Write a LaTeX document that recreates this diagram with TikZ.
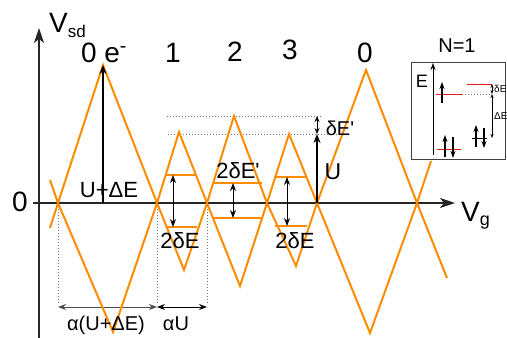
\documentclass[tikz,border=0pt]{standalone}
\usepackage{fontspec}
\setmainfont{Liberation Sans}
\usetikzlibrary{arrows.meta, positioning, calc}
\definecolor{diamondorange}{RGB}{255,140,0}
\definecolor{levelred}{RGB}{230,20,20}

\begin{document}
\begin{tikzpicture}[
    x=1pt, y=-1pt,
    >=Stealth,
    axisline/.style={line width=1.2pt, black!85, -{Stealth[length=15pt, width=10pt, inset=4pt]}},
    coulomb/.style={draw=diamondorange, line width=2pt},
    stateline/.style={draw=diamondorange, line width=2pt},
    gap/.style={line width=1pt, {Stealth[length=8pt, width=6pt]}-{Stealth[length=8pt, width=6pt]}},
    smallgap/.style={line width=0.8pt, {Stealth[length=4pt, width=3pt]}-{Stealth[length=4pt, width=3pt]}},
    charge/.style={line width=2.2pt, -{Stealth[length=9pt, width=7pt]}},
    guide/.style={black!55, line width=1pt, dash pattern=on 1pt off 2pt},
    big/.style={inner sep=0pt, anchor=base, font=\fontsize{28}{28}\selectfont},
    note/.style={inner sep=0pt, anchor=base, font=\fontsize{22}{22}\selectfont},
    tiny/.style={inner sep=0pt, anchor=base west, font=\fontsize{10}{10}\selectfont},
    redline/.style={draw=levelred, line width=1pt},
    spin/.style={line width=1.2pt, -{Stealth[length=7pt, width=5pt]}}
]
\useasboundingbox (0,0) rectangle (507,338);

% crossings on the gate axis
\coordinate (c0) at (58,203);
\coordinate (c1) at (157,203);
\coordinate (c2) at (207,203);
\coordinate (c3) at (267,203);
\coordinate (c4) at (317,203);
\coordinate (c5) at (417,203);
% diamond tips
\coordinate (t1) at (103,65);
\coordinate (t2) at (179,132);
\coordinate (t3) at (234,116);
\coordinate (t4) at (289,134);
\coordinate (t5) at (366,70);
\coordinate (b1) at (113,332);
\coordinate (b2) at (184,270);
\coordinate (b3) at (240,286);
\coordinate (b4) at (296,266);
\coordinate (b5) at (370,333);
% loose ends
\coordinate (la) at (50,228);
\coordinate (lb) at (50,180);
\coordinate (ra) at (447,278);
\coordinate (rb) at (431,161);

% axes
\coordinate (gstart) at (33,203);
\coordinate (gend) at (455,203);
\coordinate (sdstart) at (39,338);
\coordinate (sdend) at (39,28);
\draw[axisline] (gstart) -- (gend);
\draw[axisline] (sdstart) -- (sdend);

% guides
\coordinate (floor) at (0,305);
\coordinate (span) at (0,307);
\foreach \c in {c0,c1,c2} {
    \draw[guide] (\c) -- (\c |- floor);
}
\coordinate (dl3) at (167,116);
\coordinate (dr3) at (322,116);
\coordinate (dl4) at (168,134);
\coordinate (dr4) at (342,134);
\draw[guide] (dl3) -- (dr3);
\draw[guide] (dl4) -- (dr4);
\draw[gap, black!70] (c0 |- span) -- (c1 |- span);
\draw[gap] (c1 |- span) -- (c2 |- span);

% diamonds
\draw[coulomb] (la) -- (c0) -- (t1) -- (c1) -- (t2) -- (c2) -- (t3) -- (c3) -- (t4) -- (c4) -- (t5) -- (c5) -- (ra);
\draw[coulomb] (lb) -- (c0) -- (b1) -- (c1) -- (b2) -- (c2) -- (b3) -- (c3) -- (b4) -- (c4) -- (b5) -- (c5) -- (rb);

% excited levels
\foreach \n/\xl/\xr/\xa/\yu/\yd in {1/166/197/173/175/227, 3/213/262/233/183/218, 4/275/307/287/177/226} {
    \coordinate (up\n) at (\xa,\yu);
    \coordinate (dn\n) at (\xa,\yd);
    \draw[stateline] (\xl,\yu) -- (\xr,\yu);
    \draw[stateline] (\xl,\yd) -- (\xr,\yd);
    \draw[gap] (up\n) -- (dn\n);
}

% charging energies
\draw[charge] (t1 |- c0) -- (t1);
\draw[charge] (c4) -- (c4 |- t4);
\draw[line width=1pt, {Stealth[length=6pt, width=5pt]}-{Stealth[length=6pt, width=5pt]}] (c4 |- t3) -- (c4 |- t4);

% labels
\node[big] (n0) at (104,62) {0 e\textsuperscript{-}};
\node[big] (n1) at (173,62) {1};
\node[big] (n2) at (235,61) {2};
\node[big] (n3) at (290,59) {3};
\node[big] (n4) at (365,62) {0};
\node[big] (zero) at (20,211) {0};
\node[big, anchor=base west] (vsd) at (49,32) {V\raisebox{-5pt}{\fontsize{17}{17}\selectfont sd}};
\node[big, anchor=base west] (vg) at (461,221) {V\raisebox{-4pt}{\fontsize{18}{18}\selectfont g}};
\node[note] (uplus) at (109,197) {U+ΔE};
\node[note] (de1) at (180,248) {2δE};
\node[note] (de3) at (238,178) {2δE\textquotesingle};
\node[note] (de4) at (295,248) {2δE};
\node[note, font=\fontsize{23}{23}\selectfont] (ulab) at (333,179) {U};
\node[note, font=\fontsize{20}{20}\selectfont] (dep) at (340,135) {δE\textquotesingle};
\node[note, font=\fontsize{20}{20}\selectfont] (aue) at (106,330) {α(U+ΔE)};
\node[note, font=\fontsize{20}{20}\selectfont] (au) at (176,330) {αU};

% single-level inset
\node[draw=black!75, line width=1pt, fill=white, minimum width=94pt, minimum height=97pt,
      inner sep=0pt, anchor=north west] (inset) at (411,62) {};
\node[note, font=\fontsize{20}{20}\selectfont] (nlab) at (457,52) {N=1};
\node[note, font=\fontsize{18}{18}\selectfont] (elab) at (422,87) {E};
\coordinate (e0) at (433,155);
\coordinate (e1) at (433,63);
\draw[line width=1pt, -{Stealth[length=7pt, width=5pt]}] (e0) -- (e1);
\coordinate (s1a) at (436,94);
\coordinate (s1b) at (462,94);
\coordinate (s2a) at (467,84);
\coordinate (s2b) at (492,84);
\coordinate (s0a) at (437,149);
\coordinate (s0b) at (461,149);
\coordinate (s3a) at (472,138);
\coordinate (s3b) at (487,138);
\draw[redline] (s1a) -- (s1b);
\draw[redline] (s2a) -- (s2b);
\draw[redline] (s0a) -- (s0b);
\draw[line width=0.8pt] (s3a) -- (s3b);
\draw[guide, line width=0.7pt] (s1b) -- (s2b |- s1b);
\draw[spin] (442,103) -- (442,82);
\draw[spin] (445,157) -- (445,135);
\draw[spin] (453,137) -- (453,158);
\draw[spin] (476,147) -- (476,125);
\draw[spin] (484,128) -- (484,148);
\draw[smallgap] (s2b |- s1b) -- (s2b |- s3a);
\draw[smallgap] (s2b) -- (s2b |- s1b);
\node[tiny] (dlab) at (494,92) {δE};
\node[tiny] (Dlab) at (494,119) {ΔE};
\end{tikzpicture}
\end{document}
